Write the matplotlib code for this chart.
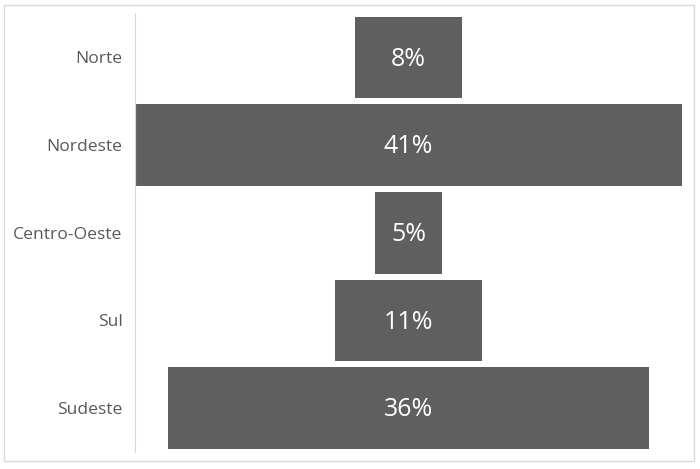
import matplotlib.pyplot as plt
from matplotlib.patches import Rectangle

regions = ['Norte', 'Nordeste', 'Centro-Oeste', 'Sul', 'Sudeste']
shares = [8, 41, 5, 11, 36]

plt.rcParams['font.family'] = ['Open Sans', 'DejaVu Sans']

fig = plt.figure(figsize=(7, 4.69), dpi=100)
fig.patches.append(Rectangle((4 / 700, 8 / 469), 690 / 700, 456 / 469, transform=fig.transFigure,
                             fill=False, edgecolor='#d9d9d9', linewidth=1))
ax = fig.add_axes([135 / 700, 17 / 469, 547 / 700, 438.5 / 469])

ypos = list(range(len(regions)))
lefts = [-v / 2 for v in shares]
ax.barh(ypos, shares, left=lefts, height=0.93, color='#5f5f5f')

for y, v in zip(ypos, shares):
    ax.text(0, y + 0.02, f'{v}%', ha='center', va='center', color='white', fontsize=18)

ax.set_xlim(-20.5, 20.5)
ax.set_ylim(len(regions) - 0.5, -0.5)
ax.set_yticks(ypos)
ax.set_yticklabels(regions, fontsize=12.6, color='#595959')
ax.set_xticks([])
ax.tick_params(axis='y', length=0, pad=9)
for s in ['top', 'right', 'bottom']:
    ax.spines[s].set_visible(False)
ax.spines['left'].set_color('#d9d9d9')

fig.savefig('out.png', dpi=100)
